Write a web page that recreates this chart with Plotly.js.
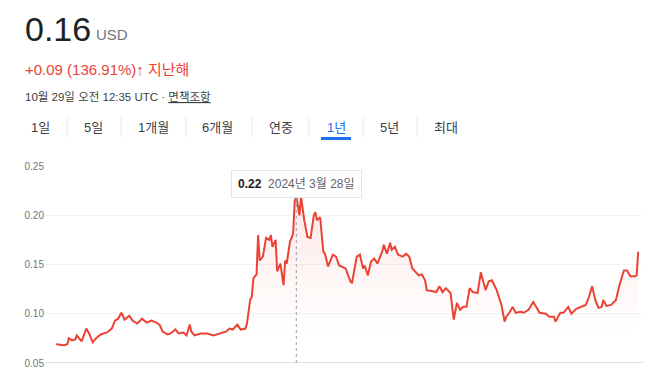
<!DOCTYPE html>
<html>
<head>
<meta charset="utf-8">
<script src="https://cdn.plot.ly/plotly-3.0.1.min.js"></script>
<style>
  html, body { margin: 0; padding: 0; background: #fff; }
  #chart { width: 666px; height: 376px; }
</style>
</head>
<body>
<div id="chart"></div>
<script>
// ---- data ----
const dates = [
  '2023-10-29','2023-11-03','2023-11-05','2023-11-06','2023-11-08','2023-11-10','2023-11-11','2023-11-14','2023-11-17','2023-11-19',
  '2023-11-21','2023-11-23','2023-11-26','2023-11-30','2023-12-03','2023-12-05','2023-12-07','2023-12-09','2023-12-10','2023-12-11',
  '2023-12-14','2023-12-16','2023-12-19','2023-12-22','2023-12-25','2023-12-28','2023-12-31','2024-01-02','2024-01-04','2024-01-07',
  '2024-01-09','2024-01-12','2024-01-14','2024-01-17','2024-01-19','2024-01-21','2024-01-22','2024-01-24','2024-01-28','2024-02-01',
  '2024-02-05','2024-02-09','2024-02-13','2024-02-15','2024-02-17','2024-02-20','2024-02-22','2024-02-25','2024-02-26','2024-02-28',
  '2024-02-29','2024-03-01','2024-03-03','2024-03-04','2024-03-05','2024-03-07','2024-03-09','2024-03-11','2024-03-12','2024-03-13',
  '2024-03-15','2024-03-16','2024-03-18','2024-03-20','2024-03-21','2024-03-22','2024-03-24','2024-03-26','2024-03-27','2024-03-28',
  '2024-03-30','2024-03-31','2024-04-02','2024-04-04','2024-04-06','2024-04-08','2024-04-09','2024-04-10','2024-04-12','2024-04-14',
  '2024-04-15','2024-04-17','2024-04-20','2024-04-22','2024-04-24','2024-04-28','2024-05-01','2024-05-02','2024-05-05','2024-05-07',
  '2024-05-09','2024-05-10','2024-05-12','2024-05-14','2024-05-16','2024-05-18','2024-05-21','2024-05-22','2024-05-24','2024-05-26',
  '2024-05-27','2024-05-29','2024-05-31','2024-06-03','2024-06-05','2024-06-07','2024-06-09','2024-06-13','2024-06-15','2024-06-17',
  '2024-06-18','2024-06-21','2024-06-24','2024-06-26','2024-06-28','2024-06-30','2024-07-03','2024-07-05','2024-07-07','2024-07-09',
  '2024-07-11','2024-07-13','2024-07-15','2024-07-17','2024-07-20','2024-07-22','2024-07-25','2024-07-27','2024-07-29','2024-08-01',
  '2024-08-04','2024-08-06','2024-08-07','2024-08-09','2024-08-11','2024-08-13','2024-08-16','2024-08-18','2024-08-21','2024-08-24',
  '2024-08-26','2024-08-28','2024-09-01','2024-09-03','2024-09-06','2024-09-07','2024-09-10','2024-09-12','2024-09-15','2024-09-17',
  '2024-09-20','2024-09-23','2024-09-26','2024-09-28','2024-09-30','2024-10-02','2024-10-04','2024-10-06','2024-10-07','2024-10-09',
  '2024-10-12','2024-10-15','2024-10-17','2024-10-20','2024-10-22','2024-10-24','2024-10-27','2024-10-28','2024-10-29'
];
const prices = [
  0.069,0.068,0.069,0.075,0.073,0.074,0.078,0.072,0.085,0.079,
  0.071,0.075,0.079,0.081,0.085,0.093,0.095,0.101,0.098,0.094,
  0.098,0.093,0.090,0.095,0.091,0.093,0.091,0.089,0.082,0.079,
  0.080,0.084,0.080,0.081,0.078,0.089,0.082,0.078,0.080,0.080,
  0.078,0.080,0.082,0.085,0.084,0.089,0.084,0.085,0.090,0.114,
  0.117,0.136,0.140,0.180,0.154,0.158,0.177,0.175,0.180,0.168,
  0.175,0.143,0.151,0.129,0.154,0.151,0.173,0.181,0.214,0.220,
  0.200,0.219,0.195,0.178,0.177,0.200,0.203,0.195,0.198,0.163,
  0.161,0.148,0.160,0.158,0.149,0.146,0.133,0.131,0.158,0.160,
  0.146,0.149,0.139,0.153,0.156,0.151,0.163,0.170,0.161,0.172,
  0.165,0.168,0.160,0.158,0.161,0.158,0.146,0.139,0.140,0.134,
  0.124,0.123,0.122,0.128,0.122,0.126,0.121,0.094,0.111,0.104,
  0.107,0.107,0.126,0.122,0.121,0.142,0.124,0.133,0.134,0.124,
  0.109,0.092,0.097,0.101,0.107,0.101,0.102,0.101,0.104,0.112,
  0.107,0.101,0.100,0.097,0.097,0.092,0.101,0.101,0.107,0.100,
  0.105,0.107,0.109,0.117,0.128,0.114,0.106,0.107,0.114,0.108,
  0.109,0.114,0.128,0.144,0.144,0.138,0.138,0.139,0.163
];
const yTicks = [0.05, 0.10, 0.15, 0.20, 0.25];
const tabLabels = ['1일','5일','1개월','6개월','연중','1년','5년','최대'];
const activeTab = '1년';
const hoverDate = '2024-03-28';
const hoverValue = 0.22;
const hoverLabel = '2024년 3월 28일';
const priceText = '0.16';
const currency = 'USD';
const changeText = '+0.09 (136.91%)';
const periodText = '지난해';
const stampText = '10월 29일 오전 12:35 UTC · ';
const disclaimerText = '면책조항';

// ---- layout helpers (pixel -> paper) ----
const W = 666, H = 376, L = 45, R = 23, T = 166, B = 13;
const PW = W - L - R, PH = H - T - B;
const px = v => (v - L) / PW;
const py = v => (H - B - v) / PH;

const FONT = "Arial, 'Liberation Sans', 'Noto Sans CJK KR', sans-serif";
const RED = '#ea4335';

const ann = [];
const shapes = [];
function txt(text, x, y, size, color, anchor) {
  ann.push({text: text, xref: 'paper', yref: 'paper', x: px(x), y: py(y),
    xanchor: anchor || 'left', yanchor: 'middle', showarrow: false,
    font: {family: FONT, size: size, color: color}});
}
// header
txt(priceText, 23, 29, 34, '#202124');
txt(currency, 94, 35, 15, '#70757a');
txt(changeText + '<b>↑</b> ' + periodText, 23, 69, 15, RED);
txt(stampText + '<u>' + disclaimerText + '</u>', 23, 96, 11.5, '#3c4043');

// tabs
const tabCenters = [40, 93, 153, 218, 281, 336, 390, 446];
const seps = [67, 121, 186, 252, 309, 363, 417];
tabLabels.forEach((t, i) => {
  txt(t, tabCenters[i], 127, 13, t === activeTab ? '#1a73e8' : '#3c4043', 'center');
});
seps.forEach(s => shapes.push({type: 'line', xref: 'paper', yref: 'paper',
  x0: px(s), x1: px(s), y0: py(117), y1: py(137), line: {color: '#e8eaed', width: 1}}));
shapes.push({type: 'line', xref: 'paper', yref: 'paper',
  x0: px(321), x1: px(351), y0: py(138.5), y1: py(138.5), line: {color: '#1a73e8', width: 3}});

// hover guide
shapes.push({type: 'line', xref: 'x', yref: 'y', x0: hoverDate, x1: hoverDate,
  y0: yTicks[0], y1: hoverValue, line: {color: '#9aa0a6', width: 1, dash: 'dot'}, layer: 'above'});
ann.push({text: '<b>' + hoverValue.toFixed(2) + '</b>  <span style="color:#5f6368">' + hoverLabel + '</span>',
  xref: 'x', yref: 'paper', x: hoverDate, y: py(183.5), xanchor: 'center', yanchor: 'middle',
  showarrow: false, bgcolor: '#ffffff', bordercolor: '#e3e3e3', borderwidth: 1, borderpad: 6,
  font: {family: FONT, size: 12, color: '#202124'}});

const trace = {
  x: dates, y: prices, type: 'scatter', mode: 'lines',
  line: {color: RED, width: 2},
  fill: 'tozeroy',
  fillgradient: {type: 'vertical', start: 0.22, stop: 0.08,
    colorscale: [[0, 'rgba(234,67,53,0.12)'], [1, 'rgba(234,67,53,0)']]},
  hoverinfo: 'skip'
};

const layout = {
  width: W, height: H,
  margin: {l: L, r: R, t: T, b: B, pad: 0},
  paper_bgcolor: '#fff', plot_bgcolor: '#fff',
  showlegend: false,
  xaxis: {type: 'date', range: ['2023-10-22', '2024-11-01'], showgrid: false,
    showticklabels: false, zeroline: false, showline: false, ticks: ''},
  yaxis: {range: [0.05, 0.25], tickvals: yTicks, tickformat: '.2f',
    showgrid: true, gridcolor: '#f1f3f4', zeroline: false, showline: false,
    ticks: '', ticklabelstandoff: 0,
    tickfont: {family: FONT, size: 10, color: '#70757a'}},
  shapes: shapes.concat([{type: 'line', xref: 'paper', yref: 'y', x0: 0, x1: 1,
    y0: yTicks[0], y1: yTicks[0], line: {color: '#bdc1c6', width: 1}, layer: 'above'}]),
  annotations: ann
};

Plotly.newPlot('chart', [trace], layout, {staticPlot: true, displayModeBar: false});
</script>
</body>
</html>
